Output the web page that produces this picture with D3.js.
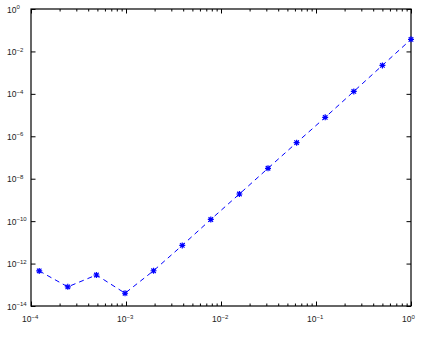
<!DOCTYPE html>
<html>
<head>
<meta charset="utf-8">
<script src="https://cdn.jsdelivr.net/npm/d3@7"></script>
<style>
  body { margin: 0; background: #fff; }
  svg { display: block; }
</style>
</head>
<body>
<div id="chart"></div>
<script>
// step sizes h = 2^-13 ... 2^0 and the error
var hValues = [1.22e-4, 2.44e-4, 4.88e-4, 9.77e-4, 1.95e-3, 3.91e-3, 7.81e-3,
               1.5625e-2, 3.125e-2, 6.25e-2, 0.125, 0.25, 0.5, 1];
var errValues = [4.5e-13, 8e-14, 2.9e-13, 4e-14, 4.6e-13, 7.2e-12, 1.2e-10,
                 1.9e-9, 3.1e-8, 5e-7, 7.8e-6, 1.3e-4, 2.2e-3, 3.7e-2];
var xTickExp = [-4, -3, -2, -1, 0];
var yTickExp = [-14, -12, -10, -8, -6, -4, -2, 0];

var W = 423, H = 342;
var margin = { top: 9, right: 12, bottom: 36, left: 31 },
    width = W - margin.left - margin.right,
    height = H - margin.top - margin.bottom;

var x = d3.scaleLog().domain([1e-4, 1]).range([0, width]);
var y = d3.scaleLog().domain([1e-14, 1]).range([height, 0]);

var svg = d3.select("#chart").append("svg")
    .attr("width", W)
    .attr("height", H)
    .style("font-family", "'Liberation Sans', Arial, sans-serif");

var g = svg.append("g")
    .attr("transform", "translate(" + margin.left + "," + margin.top + ")");

// minor ticks on x (2..9 per decade)
var minor = [];
xTickExp.slice(0, -1).forEach(function (e) {
    for (var k = 2; k <= 9; k++) minor.push(k * Math.pow(10, e));
});

function axisStyle(sel) {
    sel.select(".domain").remove();
    sel.selectAll("line").style("stroke", "#000").style("stroke-width", "1px");
}

// x ticks bottom + top (inward)
g.append("g").attr("transform", "translate(0," + height + ")")
    .call(d3.axisBottom(x).tickValues(minor).tickSize(-2.5).tickFormat(""))
    .call(axisStyle);
g.append("g")
    .call(d3.axisTop(x).tickValues(minor).tickSize(-2.5).tickFormat(""))
    .call(axisStyle);
var xMajor = xTickExp.map(function (e) { return Math.pow(10, e); });
g.append("g").attr("transform", "translate(0," + height + ")")
    .call(d3.axisBottom(x).tickValues(xMajor).tickSize(-4.5).tickFormat(""))
    .call(axisStyle);
g.append("g")
    .call(d3.axisTop(x).tickValues(xMajor).tickSize(-4.5).tickFormat(""))
    .call(axisStyle);

// y ticks left + right (inward)
var yMajor = yTickExp.map(function (e) { return Math.pow(10, e); });
g.append("g")
    .call(d3.axisLeft(y).tickValues(yMajor).tickSize(-4.5).tickFormat(""))
    .call(axisStyle);
g.append("g").attr("transform", "translate(" + width + ",0)")
    .call(d3.axisRight(y).tickValues(yMajor).tickSize(-4.5).tickFormat(""))
    .call(axisStyle);

// frame
g.append("rect")
    .attr("width", width)
    .attr("height", height)
    .style("fill", "none")
    .style("stroke", "#000")
    .style("stroke-width", "1.2px");

function powLabel(sel, e) {
    sel.append("tspan").text("10");
    sel.append("tspan")
        .attr("dy", "-0.55em")
        .style("font-size", "6px")
        .text(e === 0 ? "0" : "\u2212" + Math.abs(e));
}

// x labels
g.selectAll(".xlab").data(xTickExp).enter()
    .append("text")
    .attr("class", "xlab")
    .attr("x", function (e) { return x(Math.pow(10, e)) - 9; })
    .attr("y", height + 16)
    .style("font-size", "8.5px")
    .style("fill", "#222")
    .each(function (e) { powLabel(d3.select(this), e); });

// y labels (left aligned at fixed x)
g.selectAll(".ylab").data(yTickExp).enter()
    .append("text")
    .attr("class", "ylab")
    .attr("x", 7 - margin.left)
    .attr("y", function (e) { return y(Math.pow(10, e)) + 3.5; })
    .style("font-size", "8.5px")
    .style("fill", "#222")
    .each(function (e) { powLabel(d3.select(this), e); });

var data = hValues.map(function (h, i) { return [h, errValues[i]]; });

var line = d3.line()
    .x(function (d) { return x(d[0]); })
    .y(function (d) { return y(d[1]); });

g.append("path")
    .datum(data)
    .attr("d", line)
    .style("fill", "none")
    .style("stroke", "#0000ff")
    .style("stroke-width", "1px")
    .style("stroke-dasharray", "5,4");

// asterisk markers (+ and x)
var r = 3;
g.selectAll(".mark").data(data).enter()
    .append("path")
    .attr("class", "mark")
    .attr("transform", function (d) { return "translate(" + x(d[0]) + "," + y(d[1]) + ")"; })
    .attr("d", "M" + (-r) + ",0H" + r + "M0," + (-r) + "V" + r +
               "M" + (-r * 0.75) + "," + (-r * 0.75) + "L" + (r * 0.75) + "," + (r * 0.75) +
               "M" + (-r * 0.75) + "," + (r * 0.75) + "L" + (r * 0.75) + "," + (-r * 0.75))
    .style("fill", "none")
    .style("stroke", "#0000ff")
    .style("stroke-width", "1.2px");
</script>
</body>
</html>
